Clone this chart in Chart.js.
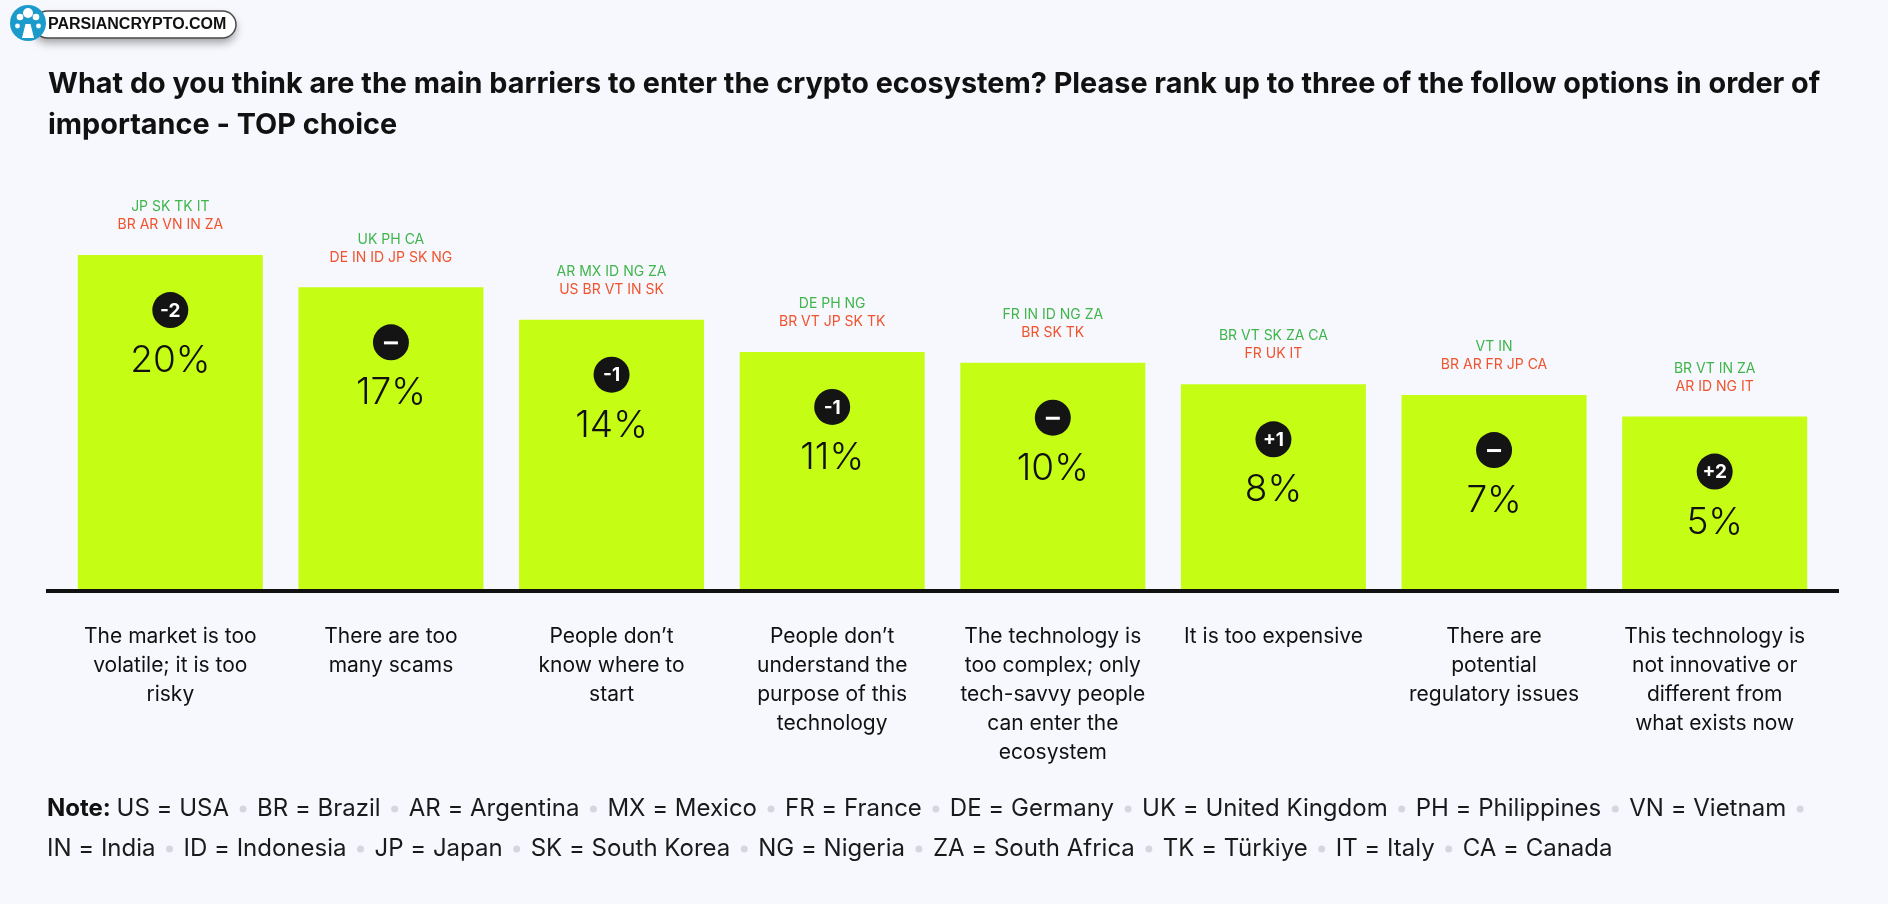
<!DOCTYPE html>
<html>
<head>
<meta charset="utf-8">
<script src="https://cdn.jsdelivr.net/npm/chart.js@4.4.1/dist/chart.umd.min.js"></script>
<style>
html, body { margin: 0; padding: 0; background: #f7f8fd; }
#wrap { width: 1888px; height: 904px; position: relative; }
</style>
</head>
<body>
<div id="wrap"><canvas id="barChart"></canvas></div>
<script>
// data
var categories = [
    ["The market is too", "volatile; it is too", "risky"],
    ["There are too", "many scams"],
    ["People don\u2019t", "know where to", "start"],
    ["People don\u2019t", "understand the", "purpose of this", "technology"],
    ["The technology is", "too complex; only", "tech-savvy people", "can enter the", "ecosystem"],
    ["It is too expensive"],
    ["There are", "potential", "regulatory issues"],
    ["This technology is", "not innovative or", "different from", "what exists now"]
];
var shares = [20, 17, 14, 11, 10, 8, 7, 5];
var rankChange = [-2, 0, -1, -1, 0, 1, 0, 2];
var higherIn = ["JP SK TK IT", "UK PH CA", "AR MX ID NG ZA", "DE PH NG", "FR IN ID NG ZA", "BR VT SK ZA CA", "VT IN", "BR VT IN ZA"];
var lowerIn = ["BR AR VN IN ZA", "DE IN ID JP SK NG", "US BR VT IN SK", "BR VT JP SK TK", "BR SK TK", "FR UK IT", "BR AR FR JP CA", "AR ID NG IT"];
var titleLines = [
    "What do you think are the main barriers to enter the crypto ecosystem? Please rank up to three of the follow options in order of",
    "importance - TOP choice"
];
var noteItems = ["US = USA", "BR = Brazil", "AR = Argentina", "MX = Mexico", "FR = France", "DE = Germany",
    "UK = United Kingdom", "PH = Philippines", "VN = Vietnam", "IN = India", "ID = Indonesia", "JP = Japan",
    "SK = South Korea", "NG = Nigeria", "ZA = South Africa", "TK = T\u00fcrkiye", "IT = Italy", "CA = Canada"];
var noteBreakAfter = 8;

var scaleMin = -11.2;

function drawLogo(ctx) {
    ctx.save();
    // pill with shadow
    ctx.shadowColor = 'rgba(0,0,0,0.35)';
    ctx.shadowBlur = 8;
    ctx.shadowOffsetY = 5;
    ctx.beginPath();
    ctx.roundRect(34, 11, 202, 27, 13.5);
    ctx.fillStyle = '#ffffff';
    ctx.fill();
    ctx.shadowColor = 'transparent';
    ctx.lineWidth = 1.5;
    ctx.strokeStyle = '#4a4a4a';
    ctx.stroke();
    ctx.fillStyle = '#111';
    ctx.font = 'bold 16px "Liberation Sans", Arial, sans-serif';
    ctx.textBaseline = 'middle';
    ctx.textAlign = 'left';
    ctx.fillText('PARSIANCRYPTO.COM', 48, 25);
    // blue circle with tree
    ctx.beginPath();
    ctx.arc(28, 23, 18, 0, Math.PI * 2);
    ctx.fillStyle = '#1b9bcb';
    ctx.fill();
    ctx.fillStyle = '#ffffff';
    ctx.beginPath();
    ctx.moveTo(22, 38);
    ctx.lineTo(34, 38);
    ctx.lineTo(30.5, 24);
    ctx.lineTo(25.5, 24);
    ctx.closePath();
    ctx.fill();
    [[28, 13, 5], [20, 17, 3.3], [36, 17, 3.3], [17.5, 26, 2.4], [38.5, 26, 2.4]].forEach(function (c) {
        ctx.beginPath();
        ctx.arc(c[0], c[1], c[2], 0, Math.PI * 2);
        ctx.fill();
    });
    ctx.restore();
}

var decorPlugin = {
    id: 'decor',
    beforeDraw: function (chart) {
        var ctx = chart.ctx;
        ctx.save();
        ctx.fillStyle = '#f7f8fd';
        ctx.fillRect(0, 0, chart.width, chart.height);
        ctx.restore();
        drawLogo(ctx);

        ctx.save();
        ctx.fillStyle = '#111111';
        ctx.font = 'bold 28.8px Inter, sans-serif';
        ctx.textAlign = 'left';
        ctx.textBaseline = 'middle';
        ctx.fillText(titleLines[0], 48, 84);
        ctx.fillText(titleLines[1], 48, 125);
        ctx.restore();
    },
    afterDatasetsDraw: function (chart) {
        var ctx = chart.ctx;
        var area = chart.chartArea;
        var meta = chart.getDatasetMeta(0);
        ctx.save();
        // baseline
        ctx.fillStyle = '#111111';
        ctx.fillRect(area.left - 14, area.bottom - 2, area.right - area.left + 28, 4);

        ctx.textAlign = 'center';
        ctx.textBaseline = 'middle';
        meta.data.forEach(function (bar, i) {
            var x = bar.x, top = bar.y;
            ctx.font = '14px Inter, sans-serif';
            ctx.fillStyle = '#3fb54b';
            ctx.fillText(higherIn[i], x, top - 48);
            ctx.fillStyle = '#f0532e';
            ctx.fillText(lowerIn[i], x, top - 30);

            ctx.fillStyle = '#141414';
            ctx.beginPath();
            ctx.arc(x, top + 55, 18, 0, Math.PI * 2);
            ctx.fill();
            ctx.fillStyle = '#ffffff';
            var d = rankChange[i];
            if (d === 0) {
                ctx.fillRect(x - 7, top + 54, 14, 3);
            } else {
                ctx.font = 'bold 19px Inter, sans-serif';
                ctx.fillText((d > 0 ? '+' : '-') + Math.abs(d), x, top + 56);
            }

            ctx.fillStyle = '#111111';
            ctx.font = '300 37px Inter, sans-serif';
            ctx.fillText(shares[i] + '%', x, top + 106);
        });
        ctx.restore();
    },
    afterDraw: function (chart) {
        var ctx = chart.ctx;
        ctx.save();
        ctx.textAlign = 'left';
        ctx.textBaseline = 'middle';
        var x = 47, y = 809;
        ctx.fillStyle = '#111111';
        ctx.font = 'bold 24px Inter, sans-serif';
        ctx.fillText('Note:', x, y);
        x += ctx.measureText('Note: ').width;
        ctx.font = '24px Inter, sans-serif';
        noteItems.forEach(function (item, i) {
            ctx.fillStyle = '#1a1a1a';
            ctx.fillText(item, x, y);
            x += ctx.measureText(item).width;
            if (i < noteItems.length - 1) {
                ctx.fillStyle = '#d4d7de';
                ctx.beginPath();
                ctx.arc(x + 14, y, 3.5, 0, Math.PI * 2);
                ctx.fill();
                x += 28;
            }
            if (i === noteBreakAfter) {
                x = 47;
                y += 40;
            }
        });
        ctx.restore();
    }
};

var ctxB = document.getElementById("barChart").getContext('2d');
var myBarChart = new Chart(ctxB, {
    type: 'bar',
    data: {
        labels: categories,
        datasets: [{
            label: "TOP choice",
            data: shares,
            base: scaleMin,
            backgroundColor: '#c5fe14',
            borderWidth: 0,
            barPercentage: 0.8386,
            categoryPercentage: 1
        }]
    },
    options: {
        responsive: true,
        maintainAspectRatio: false,
        animation: false,
        layout: {
            padding: { top: 212, left: 60, right: 63, bottom: 0 }
        },
        plugins: {
            legend: { display: false },
            tooltip: { enabled: false }
        },
        scales: {
            x: {
                grid: { display: false, drawTicks: false },
                border: { display: false },
                afterFit: function (scale) { scale.height = 313; },
                ticks: {
                    autoSkip: false,
                    maxRotation: 0,
                    padding: 31,
                    color: '#111111',
                    font: { family: 'Inter', size: 21, lineHeight: 1.38 }
                }
            },
            y: {
                display: false,
                min: scaleMin,
                max: 24
            }
        }
    },
    plugins: [decorPlugin]
});
</script>
</body>
</html>
